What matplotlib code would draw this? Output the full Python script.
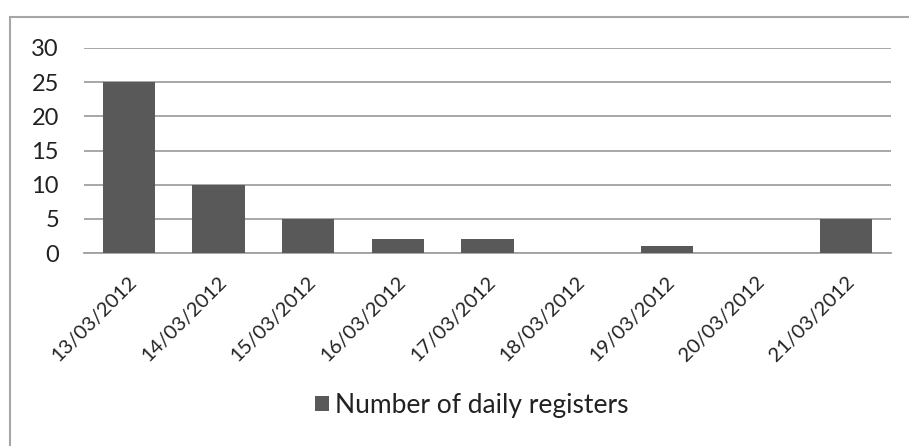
import matplotlib
matplotlib.use("Agg")
import matplotlib.pyplot as plt
from matplotlib.patches import Rectangle

dates = ["13/03/2012", "14/03/2012", "15/03/2012", "16/03/2012", "17/03/2012",
         "18/03/2012", "19/03/2012", "20/03/2012", "21/03/2012"]
registers = [25, 10, 5, 2, 2, 0, 1, 0, 5]
y_ticks = [0, 5, 10, 15, 20, 25, 30]
series_name = "Number of daily registers"

W, H = 909, 446
fig = plt.figure(figsize=(W / 100, H / 100), dpi=100)
plt.rcParams["font.family"] = ["Lato", "DejaVu Sans"]

# outer chart frame
fig.patches.append(Rectangle((10 / W, -0.1), 2.0, 1 - 17 / H + 0.1,
                             transform=fig.transFigure, fill=False,
                             edgecolor="#a6a6a6", linewidth=1.5))

ax = fig.add_axes([84 / W, 1 - 253 / H, (891 - 84) / W, (253 - 48) / H])
x = list(range(len(dates)))
ax.bar(x, registers, width=0.58, color="#595959", zorder=3, label=series_name)
ax.set_xlim(-0.5, len(dates) - 0.5)
ax.set_ylim(0, 30)
ax.set_yticks(y_ticks)
ax.set_yticklabels([str(v) for v in y_ticks], fontsize=17, color="#222222")
ax.yaxis.grid(True, color="#a0a0a0", linewidth=1.3, zorder=0)
ax.set_xticks(x)
ax.set_xticklabels([])
# slanted date labels hanging under each category
for xi, d in zip(x, dates):
    ax.annotate(d, xy=(xi, 0), xycoords=("data", "axes fraction"),
                xytext=(-0.7, -14.5), textcoords="offset points",
                rotation=45, rotation_mode="anchor", ha="right", va="top",
                fontsize=14.5, color="#222222", annotation_clip=False)
ax.tick_params(axis="both", length=0)
ax.tick_params(axis="y", pad=18)
for s in ["top", "right", "left"]:
    ax.spines[s].set_visible(False)
ax.spines["bottom"].set_color("#a0a0a0")
ax.spines["bottom"].set_linewidth(1.3)

fig.legend(loc="center", bbox_to_anchor=(472 / W, 1 - 405 / H), frameon=False,
           fontsize=19, handlelength=0.5, handleheight=0.5, handletextpad=0.25,
           labelcolor="#222222")

fig.savefig("out.png", dpi=100)
